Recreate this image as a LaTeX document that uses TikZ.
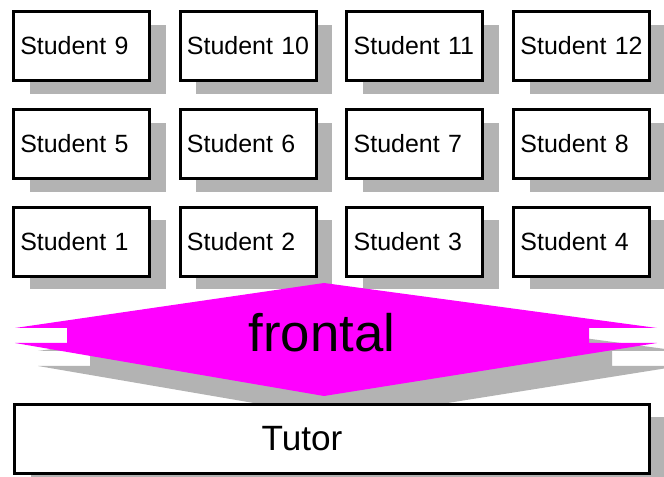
\documentclass[tikz,border=0pt]{standalone}
\usepackage{fontspec}
\setmainfont{Liberation Sans}
\usetikzlibrary{positioning,shadows}
\definecolor{frontalpink}{RGB}{255,0,255}
\definecolor{shadowgray}{RGB}{179,179,179}

\tikzset{
  box/.style={draw, line width=1.7pt, fill=white,
    drop shadow={shadow xshift=0.32cm, shadow yshift=-0.26cm, fill=shadowgray, opacity=1}},
  student/.style={box, minimum height=1.38cm, text width=2.45cm, inner xsep=0.135cm,
    align=left, font=\fontsize{14.2}{17}\selectfont},
}

\begin{document}
\begin{tikzpicture}[node distance=0.52cm and 0.555cm]
\useasboundingbox (0,0) rectangle (13.28,-9.54);
\clip (0,0) rectangle (13.28,-9.54);

% students, front row first
\node[student] (s1) at (1.63,-4.84) {Student 1};
\node[student] (s2) [right=of s1] {Student 2};
\node[student] (s3) [right=of s2] {Student 3};
\node[student] (s4) [right=of s3] {Student 4};
\node[student] (s5) [above=of s1] {Student 5};
\node[student] (s6) [above=of s2] {Student 6};
\node[student] (s7) [above=of s3] {Student 7};
\node[student] (s8) [above=of s4] {Student 8};
\node[student] (s9) [above=of s5] {Student 9};
\node[student] (s10) [above=of s6] {Student 10};
\node[student] (s11) [above=of s7] {Student 11};
\node[student] (s12) [above=of s8] {Student 12};

% frontal double arrow, shadow first
\foreach \dx/\dy/\col in {0.46/-0.46/shadowgray, 0/0/frontalpink}
  \fill[\col, shift={(\dx,\dy)}] (6.48,-5.66) -- (0.30,-6.56) -- (1.34,-6.56) -- (1.34,-6.86)
    -- (0.30,-6.86) -- (6.48,-7.92) -- (13.14,-6.86) -- (11.78,-6.86) -- (11.78,-6.56)
    -- (13.14,-6.56) -- cycle;
\node[font=\fontsize{30}{36}\selectfont, anchor=base, inner sep=0pt] (frontal) at (6.44,-7.04) {frontal};

% tutor
\node[box, minimum width=12.7cm, minimum height=1.38cm] (tutor) at (6.64,-8.78) {};
\node[font=\fontsize{20}{24}\selectfont] (tutorlabel) at ([xshift=-0.6cm]tutor.center) {Tutor};
\end{tikzpicture}
\end{document}
